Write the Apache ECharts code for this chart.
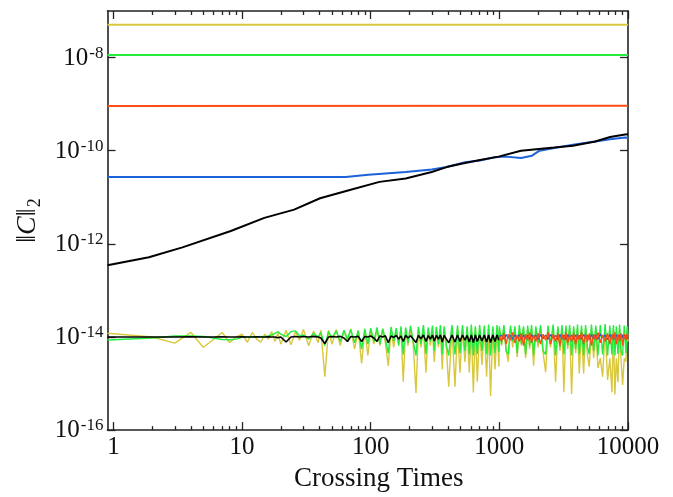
<!DOCTYPE html>
<html><head><meta charset="utf-8">
<script src="https://cdn.jsdelivr.net/npm/echarts@6/dist/echarts.min.js"></script>
<style>html,body{margin:0;padding:0;background:#fff}#c{width:673px;height:497px}</style>
</head><body><div id="c"></div>
<script>
// ---- axis ticks / labels ----
const xMajorTicks = [1, 10, 100, 1000, 10000];
const xTickLabels = ['1', '10', '100', '1000', '10000'];
const xMinorTicks = [2,3,4,5,6,7,8,9, 20,30,40,50,60,70,80,90, 200,300,400,500,600,700,800,900, 2000,3000,4000,5000,6000,7000,8000,9000];
const yTickValues = [1e-16, 1e-14, 1e-12, 1e-10, 1e-8];
const yTickExponents = ['-16', '-14', '-12', '-10', '-8'];

// ---- upper curves ----
const topTimes = [0.9, 10000];
const yellowTop = [5.05e-8, 5.05e-8];
const greenTop = [1.14e-8, 1.14e-8];
const orangeTop = [9.1e-10, 9.2e-10];
const blueTopTimes = [0.9, 10, 30, 64, 96, 187, 298, 389, 542, 707, 922, 1127, 1472, 1795, 2051, 2675, 3732, 5560, 7260, 9480, 10000];
const blueTop = [2.74e-11, 2.74e-11, 2.74e-11, 2.72e-11, 3.06e-11, 3.48e-11, 3.97e-11, 4.45e-11, 5.66e-11, 6.15e-11, 7.23e-11, 7.46e-11, 6.98e-11, 7.83e-11, 1.0e-10, 1.14e-10, 1.34e-10, 1.57e-10, 1.76e-10, 1.91e-10, 1.9e-10];
const blackTopTimes = [0.9, 1.89, 3.44, 8.18, 14.9, 25.4, 40.4, 68.8, 117, 187, 298, 389, 507, 707, 986, 1472, 2675, 3732, 5560, 7260, 9480, 10000];
const blackTop = [3.45e-13, 5.16e-13, 8.39e-13, 1.89e-12, 3.61e-12, 5.42e-12, 9.53e-12, 1.43e-11, 2.14e-11, 2.52e-11, 3.48e-11, 4.45e-11, 5.22e-11, 6.34e-11, 7.46e-11, 1.0e-10, 1.17e-10, 1.28e-10, 1.57e-10, 1.97e-10, 2.24e-10, 2.25e-10];

// ---- lower (noisy) curves: sample times ----
const timesEarly = [0.9,2,3,4,5,6,7,8,9,10,11,12,13,14,15,16,17,18,19,20,22,24,26,28,30,33,36,39,41,44,47,50,54,58,62,66,70,75,80,85,90,95];
const timesMid = [100,106,112,118,124,130,137,144,151,158, 165,172,179,187,195,204,214,225,235,246, 257,269,280,291,302,312,324,336,348,360, 372,388,404,428,452,473,494,517,540,562, 584,606,628,651,674,703,732,764,796,825, 855,890,925,959,993];
const timesLate = [1000,1040,1085,1130,1173,1220,1270,1320,1377,1430, 1485,1540,1600,1660,1720,1780,1846,1920,2000,2090, 2190,2290,2390,2500,2620,2737,2850,2960,3070,3175, 3290,3400,3520,3645,3780,3920,4050,4180,4350,4520, 4680,4840,5000,5200,5410,5620,5840,6090,6350,6640, 6940,7220,7500,7700,7910,8120,8350,8600,8840,9080, 9350,9640,9850,10000];

const yellowEarly = [1.2e-14,1.0e-14,7.4e-15,1.25e-14,6.0e-15,8.8e-15,1.25e-14,7.6e-15,1.0e-14,1.15e-14, 7.7e-15,1.25e-14,9.0e-15,7.7e-15,1.15e-14,9.0e-15,1.3e-14,8.0e-15,1.2e-14,7.0e-15, 1.4e-14,6.8e-15,1.3e-14,8.5e-15,1.45e-14, 6.5e-15,1.35e-14,7.5e-15,1.4e-14,1.4e-15,1.4e-14,7.0e-15, 1.45e-14,6.5e-15,1.35e-14,8.0e-15,1.5e-14,5.5e-15,1.4e-14,2.7e-15,1.4e-14,4.0e-15];
const yellowMid = [1.45e-14,7.0e-15,1.4e-14,6.5e-15,1.5e-14,7.5e-15,2.4e-15,1.45e-14,6.0e-15,1.5e-14,
 7.0e-15,1.45e-14,1.1e-15,1.5e-14,6.5e-15,1.45e-14,7.0e-15,6.3e-16,1.5e-14,6.0e-15,
 1.45e-14,1.7e-15,1.5e-14,6.5e-15,1.45e-14,2.9e-15,1.55e-14,6.0e-15,1.45e-14,2.0e-15,
 1.5e-14,5.5e-15,8.5e-16,1.55e-14,8.5e-16,1.5e-14,1.7e-15,1.5e-14,2.9e-15,1.55e-14,
 1.7e-15,1.5e-14,6.4e-16,1.55e-14,1.1e-15,1.5e-14,2.5e-15,1.55e-14,1.4e-15,1.5e-14,
 5.4e-16,1.55e-14,2.0e-15,1.5e-14,2.3e-15];
const yellowLate = [1.5e-14,6.5e-15,1.5e-14,5.0e-15,2.95e-15,1.55e-14,6.0e-15,1.5e-14,3.7e-15,1.5e-14,
 6.5e-15,1.55e-14,3.5e-15,1.5e-14,5.5e-15,1.55e-14,2.4e-15,1.5e-14,6.0e-15,1.55e-14,
 4.5e-15,1.75e-15,1.5e-14,6.0e-15,1.55e-14,1.1e-15,1.5e-14,5.0e-15,1.55e-14,6.5e-16,
 1.5e-14,5.5e-15,1.55e-14,6.0e-16,1.5e-14,4.5e-15,1.55e-14,1.65e-15,1.5e-14,1.65e-15,
 1.55e-14,4.0e-15,2.3e-15,1.5e-14,3.5e-15,1.55e-14,2.15e-15,3.5e-15,1.4e-15,1.5e-14,
 1.2e-15,3.5e-15,6.5e-16,1.5e-14,5.8e-16,3.5e-15,1.07e-15,1.5e-14,3.2e-15,9.3e-16,
 3.5e-15,2.95e-15,1.5e-14,8.0e-15];

const greenEarly = [8.6e-15,9.5e-15,1.05e-14,1.05e-14,1.02e-14,9.5e-15,8.8e-15,8.7e-15,9.0e-15,9.8e-15,
 1.0e-14,1.02e-14,9.8e-15,1.03e-14,1.0e-14,1.05e-14,1.1e-14,1.2e-14,1.3e-14,1.15e-14,
 1.02e-14,1.3e-14,1.35e-14,1.05e-14,1.1e-14,
 9.0e-15,1.2e-14,1.0e-14,1.25e-14,6.5e-15,1.3e-14,9.5e-15,
 1.35e-14,8.0e-15,1.4e-14,9.0e-15,1.45e-14,7.5e-15,1.35e-14,5.5e-15,1.5e-14,7.0e-15];
const greenMid = [1.55e-14,8.0e-15,1.6e-14,7.0e-15,1.5e-14,9.0e-15,4.5e-15,1.65e-14,8.0e-15,1.55e-14,
 6.5e-15,1.7e-14,4.2e-15,1.6e-14,7.5e-15,1.75e-14,8.0e-15,4.0e-15,1.65e-14,7.0e-15,
 1.8e-14,4.3e-15,1.6e-14,8.0e-15,1.75e-14,5.0e-15,1.65e-14,7.0e-15,1.8e-14,4.2e-15,
 1.7e-14,6.5e-15,4.0e-15,1.8e-14,4.2e-15,1.75e-14,4.5e-15,1.8e-14,5.0e-15,1.7e-14,
 4.2e-15,1.85e-14,4.0e-15,1.7e-14,4.3e-15,1.8e-14,5.0e-15,1.75e-14,4.2e-15,1.85e-14,
 4.0e-15,1.7e-14,4.5e-15,1.8e-14,4.8e-15];
const greenLate = [1.7e-14,7.0e-15,1.8e-14,5.0e-15,4.2e-15,1.75e-14,8.0e-15,1.7e-14,4.5e-15,1.8e-14,
 7.0e-15,1.7e-14,4.2e-15,1.75e-14,6.5e-15,1.8e-14,4.0e-15,1.7e-14,7.5e-15,1.8e-14,
 5.0e-15,4.2e-15,1.75e-14,7.0e-15,1.85e-14,4.0e-15,1.7e-14,6.0e-15,1.8e-14,4.2e-15,
 1.75e-14,6.5e-15,1.8e-14,4.0e-15,1.7e-14,5.5e-15,1.85e-14,4.2e-15,1.75e-14,4.0e-15,
 1.8e-14,6.0e-15,4.3e-15,1.85e-14,5.0e-15,1.75e-14,4.0e-15,1.8e-14,4.2e-15,1.9e-14,
 4.0e-15,1.75e-14,4.2e-15,1.8e-14,4.0e-15,1.7e-14,4.3e-15,1.85e-14,5.0e-15,4.0e-15,
 1.75e-14,4.5e-15,1.7e-14,1.1e-14];

const blackEarly = [1.0e-14,1.0e-14,1.0e-14,1.01e-14,1.0e-14,1.0e-14,1.01e-14,1.0e-14,1.0e-14,1.01e-14,
 1.0e-14,1.0e-14,1.01e-14,1.0e-14,1.0e-14,1.01e-14,1.0e-14,1.0e-14,9.6e-15,1.0e-14,
 7.8e-15,1.0e-14,1.02e-14,1.0e-14,1.02e-14,
 1.0e-14,1.03e-14,1.0e-14,9.5e-15,7.2e-15,1.0e-14,1.02e-14,
 1.0e-14,1.03e-14,9.5e-15,8.0e-15,1.02e-14,1.0e-14,1.03e-14,8.0e-15,1.02e-14,1.0e-14];
const blackMid = [1.05e-14,9.5e-15,8.0e-15,1.05e-14,1.0e-14,1.06e-14,7.5e-15,1.05e-14,9.8e-15,1.08e-14,
 9.0e-15,1.05e-14,8.0e-15,1.08e-14,9.5e-15,1.06e-14,9.0e-15,7.6e-15,1.08e-14,9.2e-15,
 1.1e-14,8.0e-15,1.07e-14,9.0e-15,1.1e-14,8.2e-15,1.08e-14,9.0e-15,1.1e-14,7.8e-15,
 1.08e-14,9.0e-15,7.5e-15,1.1e-14,7.8e-15,1.1e-14,8.0e-15,1.1e-14,8.5e-15,1.08e-14,
 7.8e-15,1.1e-14,7.6e-15,1.1e-14,8.0e-15,1.1e-14,8.2e-15,1.1e-14,7.8e-15,1.1e-14,
 7.6e-15,1.1e-14,8.0e-15,1.1e-14,8.5e-15];

const orangeLate = [1.1e-14,8.0e-15,1.2e-14,7.0e-15,1.15e-14,8.5e-15,1.25e-14,7.5e-15,1.1e-14,8.0e-15,
 1.2e-14,6.5e-15,1.15e-14,8.5e-15,1.25e-14,7.5e-15,1.1e-14,8.0e-15,1.2e-14,7.0e-15,
 1.15e-14,8.5e-15,1.25e-14,7.0e-15,1.15e-14,8.0e-15,1.2e-14,6.5e-15,1.15e-14,8.5e-15,
 1.25e-14,7.5e-15,1.1e-14,8.0e-15,1.2e-14,7.0e-15,1.15e-14,8.5e-15,1.25e-14,7.0e-15,
 1.15e-14,8.0e-15,1.2e-14,6.5e-15,1.15e-14,8.5e-15,1.25e-14,7.5e-15,1.1e-14,8.0e-15,
 1.2e-14,7.0e-15,1.15e-14,8.5e-15,1.25e-14,7.0e-15,1.15e-14,8.0e-15,1.2e-14,6.5e-15,
 1.15e-14,8.5e-15,1.2e-14,1.0e-14];
const blueLate = [1.0e-14,1.1e-14,9.0e-15,1.12e-14,9.5e-15,1.08e-14,9.0e-15,1.1e-14,9.5e-15,1.12e-14,
 8.8e-15,1.1e-14,9.2e-15,1.08e-14,9.0e-15,1.12e-14,9.5e-15,1.1e-14,8.8e-15,1.12e-14,
 9.2e-15,1.1e-14,9.0e-15,1.12e-14,9.5e-15,1.08e-14,9.0e-15,1.12e-14,9.2e-15,1.1e-14,
 8.8e-15,1.12e-14,9.5e-15,1.1e-14,9.0e-15,1.12e-14,9.2e-15,1.08e-14,9.0e-15,1.12e-14,
 9.5e-15,1.1e-14,8.8e-15,1.12e-14,9.2e-15,1.1e-14,9.0e-15,1.15e-14,9.5e-15,1.1e-14,
 8.8e-15,1.12e-14,9.2e-15,1.1e-14,9.0e-15,1.12e-14,9.5e-15,1.08e-14,9.0e-15,1.12e-14,
 9.2e-15,1.1e-14,9.0e-15,1.05e-14];

// ---- colours ----
const C_YELLOW = '#d9c83e', C_GREEN = '#22ec3c', C_ORANGE = '#ff4c14', C_BLUE = '#1c62d8', C_BLACK = '#000000';

// ---- build ----
const FONT = '"Liberation Serif", "DejaVu Serif", serif';
function pairs(xs, ys) { return xs.map((x, i) => [x, ys[i]]); }
const allTimes = timesEarly.concat(timesMid, timesLate);
const earlyMidTimes = timesEarly.concat(timesMid);

function line(name, xs, ys, color, width, z) {
  return { name, type: 'line', data: pairs(xs, ys), showSymbol: false, symbol: 'none',
    lineStyle: { color, width }, itemStyle: { color }, z: z, animation: false, silent: true };
}
function findIdx(arr, v) { return arr.findIndex(a => Math.abs(a - v) <= Math.abs(a) * 1e-6); }

const axisLineStyle = { color: '#222', width: 1.6 };
const tickStyle = { color: '#222', width: 1.3 };
function xAxisDef(position, minor, showLine) {
  return {
    type: 'log', position, min: 0.9, max: 10000,
    axisLine: { show: showLine, lineStyle: axisLineStyle },
    axisTick: { show: true, inside: true, length: minor ? 4 : 8, customValues: minor ? xMinorTicks : xMajorTicks, lineStyle: tickStyle },
    axisLabel: { show: false },
    splitLine: { show: false }
  };
}
const xBottom = xAxisDef('bottom', false, true);
xBottom.axisLabel = {
  show: true, customValues: xMajorTicks, margin: 5,
  fontFamily: FONT, fontSize: 25, color: '#111',
  formatter: v => { const i = findIdx(xMajorTicks, v); return i >= 0 ? xTickLabels[i] : ''; }
};
xBottom.name = 'Crossing Times';
xBottom.nameLocation = 'middle';
xBottom.nameGap = 30;
xBottom.nameTextStyle = { fontFamily: FONT, fontSize: 27, color: '#111', padding: [0, 0, 0, 22] };

function yAxisDef(position, labels) {
  const ax = {
    type: 'log', position, min: 1e-16, max: 1e-7,
    axisLine: { show: true, lineStyle: axisLineStyle },
    axisTick: { show: true, inside: true, length: 8, customValues: yTickValues, lineStyle: tickStyle },
    axisLabel: { show: false },
    splitLine: { show: false }
  };
  if (labels) {
    ax.axisLabel = {
      show: true, customValues: yTickValues, margin: 4,
      formatter: v => { const i = findIdx(yTickValues, v); return i >= 0 ? '{b|10}{s|' + yTickExponents[i] + '}' : ''; },
      rich: {
        b: { fontFamily: FONT, fontSize: 25, lineHeight: 26, color: '#111', verticalAlign: 'bottom' },
        s: { fontFamily: FONT, fontSize: 17, lineHeight: 17, color: '#111', verticalAlign: 'top', padding: [0, 0, 15, 1] }
      }
    };
    ax.name = '{n|‖}{c|C}{n|‖}{s|2}';
    ax.nameLocation = 'middle';
    ax.nameGap = 63;
    ax.nameTextStyle = {
      rich: {
        n: { fontFamily: FONT, fontSize: 28, lineHeight: 30, color: '#111', verticalAlign: 'top' },
        c: { fontFamily: FONT, fontSize: 28, lineHeight: 30, color: '#111', fontStyle: 'italic', verticalAlign: 'top' },
        s: { fontFamily: FONT, fontSize: 18, lineHeight: 18, color: '#111', verticalAlign: 'top', padding: [12, 0, 0, 1] }
      }
    };
  }
  return ax;
}

const option = {
  backgroundColor: '#fff',
  animation: false,
  grid: { left: 107.5, right: 45, top: 11, bottom: 59, containLabel: false },
  xAxis: [xBottom, xAxisDef('bottom', true, false), xAxisDef('top', false, true), xAxisDef('top', true, false)],
  yAxis: [yAxisDef('left', true), yAxisDef('right', false)],
  series: [
    line('yellowTop', topTimes, yellowTop, C_YELLOW, 2, 2),
    line('greenTop', topTimes, greenTop, C_GREEN, 2, 2),
    line('orangeTop', topTimes, orangeTop, C_ORANGE, 2, 2),
    line('blueTop', blueTopTimes, blueTop, C_BLUE, 2, 3),
    line('blackTop', blackTopTimes, blackTop, C_BLACK, 2, 4),
    line('yellowNoise', allTimes, yellowEarly.concat(yellowMid, yellowLate), C_YELLOW, 1.4, 2),
    line('greenNoise', allTimes, greenEarly.concat(greenMid, greenLate), C_GREEN, 1.4, 2),
    line('blueNoise', timesLate, blueLate, C_BLUE, 1.4, 2),
    line('orangeNoise', timesLate, orangeLate, C_ORANGE, 1.4, 2),
    line('blackNoise', earlyMidTimes, blackEarly.concat(blackMid), C_BLACK, 1.6, 3)
  ]
};
const chart = echarts.init(document.getElementById('c'), null, { renderer: 'canvas' });
chart.setOption(option);
</script>
</body></html>
